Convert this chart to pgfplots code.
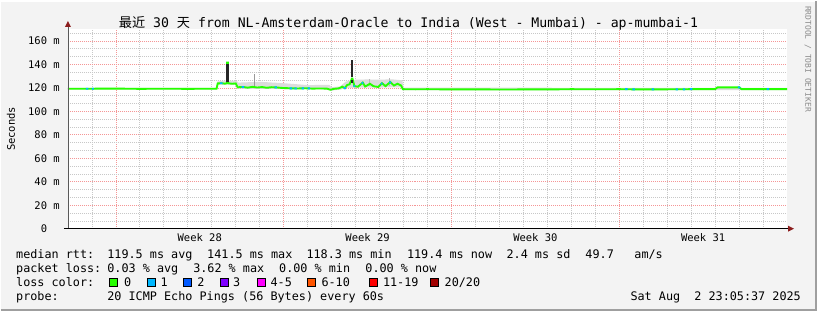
\documentclass[border=0pt]{standalone}
\usepackage{fontspec}
\usepackage{pgfplots}
\pgfplotsset{compat=1.18}
\setmainfont{DejaVu Sans Mono}
\newfontfamily\cjk{Noto Sans CJK SC}
\definecolor{bgc}{RGB}{243,243,243}
\definecolor{gridred}{RGB}{245,150,150}
\definecolor{gridgray}{RGB}{200,200,200}
\definecolor{arrowred}{RGB}{140,30,30}
\definecolor{smoke}{RGB}{220,220,220}
\definecolor{cA}{HTML}{26FF00}
\definecolor{cB}{HTML}{00B8FF}
\definecolor{cC}{HTML}{0059FF}
\definecolor{cD}{HTML}{7F00FF}
\definecolor{cE}{HTML}{FF00FF}
\definecolor{cF}{HTML}{FF5500}
\definecolor{cG}{HTML}{FF0000}
\definecolor{cH}{HTML}{A10000}
\newcommand\lf{\fontsize{11.8}{11.8}\selectfont}
\newcommand\tf{\fontsize{10.5}{10.5}\selectfont}
\begin{document}
\begin{tikzpicture}[x=1pt,y=1pt]
\fill[bgc] (0,0) rectangle (817,310);
\draw[white, line width=1pt] (0,0.5) -- (0,309.5) -- (816,309.5);
\draw[gray!75, line width=2pt] (0,1) -- (816,1) -- (816,310);
\begin{axis}[
  at={(67pt,82pt)}, anchor=south west,
  scale only axis, width=720pt, height=199.75pt,
  xmin=0, xmax=30, ymin=0, ymax=170,
  axis background/.style={fill=white},
  axis line style={draw=none},
  tick style={draw=none},
  unbounded coords=jump,
  xtick={2,9,16,23}, xticklabels={},
  minor xtick={0,1,3,4,5,6,7,8,10,11,12,13,14,15,17,18,19,20,21,22,24,25,26,27,28,29},
  ytick={0,20,40,60,80,100,120,140,160},
  yticklabels={0\hphantom{mm},20 m,40 m,60 m,80 m,100 m,120 m,140 m,160 m},
  minor ytick={6.667,13.333,26.667,33.333,46.667,53.333,66.667,73.333,86.667,93.333,106.667,113.333,126.667,133.333,146.667,153.333,166.667},
  grid=both,
  major grid style={draw=gridred, dash pattern=on 1pt off 1pt, line width=0.7pt},
  minor grid style={draw=gridgray, dash pattern=on 1pt off 1pt, line width=0.7pt},
  extra x ticks={5.5,12.5,19.5,26.5},
  extra x tick labels={Week 28,Week 29,Week 30,Week 31},
  extra x tick style={grid=none, xticklabel style={font=\tf, anchor=base, inner sep=0pt, yshift=-13pt}},
  yticklabel style={font=\tf, anchor=east, inner sep=0pt, xshift=-8pt},
]
% smoke band
\addplot[fill=smoke, draw=none] coordinates {
(0,120.0)(6.2,120.0)(6.24,125.5)(6.6,126.2)(7.05,125.8)(7.1,124.5)(7.5,124.8)(8.0,125.2)(8.5,124.6)(9.0,124.0)(9.5,123.2)(10.0,122.4)(10.9,122.6)(11.0,120.6)(11.35,121.2)(11.6,125.5)(12.0,127.0)(12.5,127.2)(13.0,127.0)(13.5,127.3)(13.95,126.5)(14.0,120.2)(30,120.0)
(30,118.2)(14.0,118.2)(13.95,120.5)(11.5,120)(11.4,118.6)(11.0,117.8)(10.9,118.8)(7.1,119.3)(7.05,122.8)(6.25,122.8)(6.2,118.7)(0,118.7)
} -- cycle;
% smoke spikes
\addplot[gray!80, line width=1pt] coordinates {(7.8,121)(7.8,132)};
\addplot[gray!55, line width=1pt] coordinates {(13.4,122)(13.4,128.8)};
\addplot[gray!55, line width=1pt] coordinates {(12.6,122)(12.6,127.5)};
% median
\addplot[cA, line width=1.9pt] coordinates {
(0,119.3)(1,119.3)(1.9,119.4)(3,119.2)(4,119.3)(5,119.2)(6,119.3)(6.2,119.3)
(6.25,123.8)(6.4,124.0)(6.55,123.6)(6.64,124)(6.64,141.5)(6.67,141.5)(6.67,124)(6.85,123.5)(7.0,123.8)
(7.08,120.5)(7.3,120.8)(7.5,120.2)(7.7,120.9)(7.9,120.3)(8.1,120.7)(8.3,120.1)(8.5,120.6)
(8.7,120.4)(8.9,120.0)(9.1,119.8)(9.3,119.6)(9.6,119.5)(9.9,119.7)(10.2,119.4)(10.5,119.5)
(10.8,119.4)(10.95,118.4)(11.1,119.2)(11.3,119.6)(11.45,121)(11.55,119.8)(11.65,122.5)
(11.75,123)(11.85,128)(11.87,128)(11.95,121.5)(12.1,121)(12.3,124.5)(12.4,121.2)(12.6,123.5)
(12.75,121.4)(12.95,120.8)(13.1,124)(13.25,121.5)(13.45,125)(13.6,122)(13.75,123.5)
(13.9,122)(13.97,118.9)(14.5,118.8)(15,118.9)(16,118.7)(17,118.8)(18,118.6)(19,118.7)
(20,118.7)(21,118.9)(22,118.8)(23,118.9)(24,118.7)(25,118.8)(26,118.9)(27,119.0)
(27.1,120.5)(28.0,120.5)(28.1,119.0)(29,118.9)(30,118.9)
};
% dark smoke at the spikes (drawn over the median)
\addplot[black!85, line width=2.4pt] coordinates {(6.655,124.8)(6.655,140.4)};
\addplot[black!85, line width=1.6pt] coordinates {(11.86,129)(11.86,144)};
\addplot[black!85, line width=1.6pt] coordinates {(11.86,124.5)(11.86,127)};
% median with 1/20 loss
\addplot[cB, line width=1.9pt] coordinates {
(0.75,119.3)(0.85,119.3)(0.86,nan)(1.0,119.3)(1.08,119.3)(1.09,nan)
(6.35,124)(6.45,124)(6.46,nan)(7.25,120.8)(7.35,120.8)(7.36,nan)
(8.62,120.4)(8.72,120.4)(8.73,nan)(9.25,119.6)(9.35,119.6)(9.36,nan)
(9.45,119.5)(9.55,119.5)(9.56,nan)(9.75,119.6)(9.85,119.6)(9.86,nan)
(10.0,119.6)(10.1,119.6)(10.11,nan)(11.5,119.8)(11.6,119.8)(11.61,nan)
(11.92,121.8)(11.98,121.5)(11.99,nan)(12.25,124.2)(12.32,124.3)(12.33,nan)
(13.05,123.5)(13.12,123.8)(13.13,nan)(13.4,124.6)(13.48,124.8)(13.49,nan)
(23.25,118.9)(23.35,118.9)(23.36,nan)(23.55,118.8)(23.65,118.8)(23.66,nan)
(24.35,118.7)(24.45,118.7)(24.46,nan)(25.35,118.8)(25.45,118.8)(25.46,nan)
(25.65,118.8)(25.75,118.8)(25.76,nan)(25.95,118.9)(26.05,118.9)(26.06,nan)
(27.95,120.5)(28.05,120.3)(28.06,nan)(29.15,118.9)(29.25,118.9)
};
\end{axis}
% axes
\draw[gray!70!black, line width=0.8pt] (67,82) -- (67,286);
\fill[arrowred] (64,284) -- (70,284) -- (67,290) -- cycle;
\draw[black, line width=1pt] (63,82) -- (789,82);
\fill[arrowred] (788,79) -- (788,85) -- (794,82) -- cycle;
% title
\node[anchor=base, inner sep=0pt] at (408,283.3) {\fontsize{13.2}{13.2}\selectfont{\cjk 最近} 30 {\cjk 天} from NL-Amsterdam-Oracle to India (West - Mumbai) - ap-mumbai-1};
\node[rotate=90, inner sep=0pt] at (10,182) {\tf Seconds};
\node[rotate=-90, inner sep=0pt, text=black!45] at (808,252) {\fontsize{8}{8}\selectfont RRDTOOL / TOBI OETIKER};
% legend text
\begin{scope}[every node/.style={anchor=base west, inner sep=0pt, font=\lf}]
\node at (15,52) {median rtt:};
\node at (106.3,52) {119.5 ms avg};
\node at (206.3,52) {141.5 ms max};
\node at (305.7,52) {118.3 ms min};
\node at (406.3,52) {119.4 ms now};
\node at (506,52) {2.4 ms sd};
\node at (585,52) {49.7};
\node at (634,52) {am/s};
\node at (15,38) {packet loss:};
\node at (106.3,38) {0.03 \% avg};
\node at (192.3,38) {3.62 \% max};
\node at (278.3,38) {0.00 \% min};
\node at (364.7,38) {0.00 \% now};
\node at (15,24) {loss color:};
\node at (123,24) {0};
\node at (159.7,24) {1};
\node at (196.3,24) {2};
\node at (232.3,24) {3};
\node at (269.7,24) {4-5};
\node at (320.7,24) {6-10};
\node at (382.3,24) {11-19};
\node at (444,24) {20/20};
\node at (15,10) {probe:};
\node at (106.3,10) {20 ICMP Echo Pings (56 Bytes) every 60s};
\node[anchor=base east] at (801,10) {Sat Aug\ \ 2 23:05:37 2025};
\end{scope}
\foreach \xx/\cc in {108/cA,146/cB,182.7/cC,219.3/cD,256.3/cE,306.7/cF,368.3/cG,430/cH}
  \filldraw[fill=\cc, draw=black, line width=0.6pt] (\xx,24.3) rectangle ++(8,8);
\end{tikzpicture}
\end{document}
